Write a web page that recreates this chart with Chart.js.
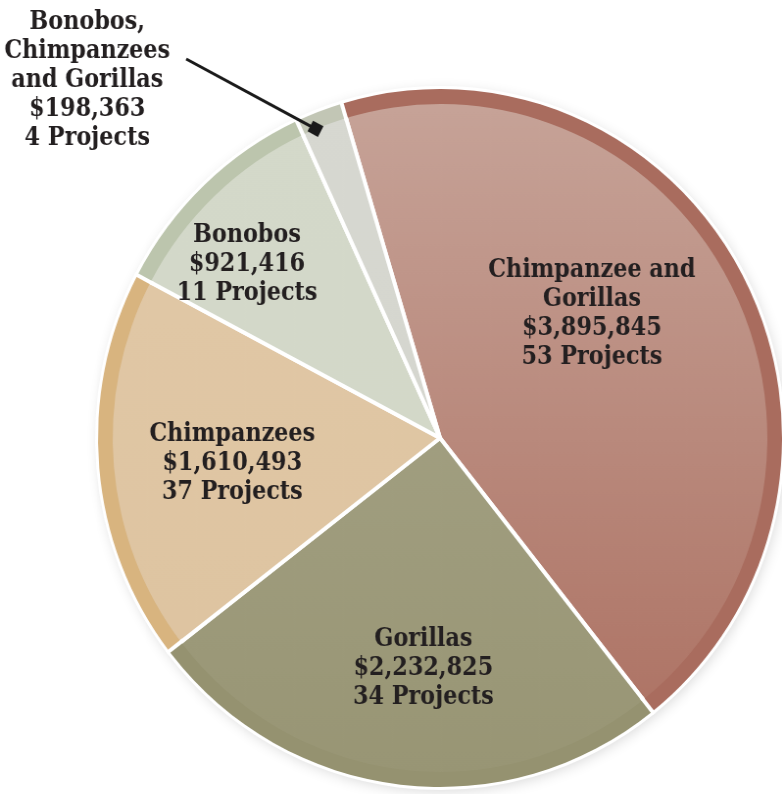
<!DOCTYPE html>
<html>
<head>
<meta charset="utf-8">
<script src="https://cdn.jsdelivr.net/npm/chart.js@4.4.0/dist/chart.umd.min.js"></script>
<style>
  html, body { margin: 0; padding: 0; background: #fff; }
  #wrap { position: relative; width: 782px; height: 794px; overflow: hidden; background: #fff; }
  #wrap canvas { position: absolute; left: -10px; top: -12px; transform: scale(0.98, 1); transform-origin: 450px 450px; }
</style>
</head>
<body>
<div id="wrap"><canvas id="pie" width="900" height="900"></canvas></div>
<script>
// data
const categories = ["Chimpanzee and Gorillas", "Gorillas", "Chimpanzees", "Bonobos", "Bonobos, Chimpanzees and Gorillas"];
const funding = [3895845, 2232825, 1610493, 921416, 198363];
const projects = [53, 34, 37, 11, 4];
const labelLines = [["Chimpanzee and", "Gorillas"], ["Gorillas"], ["Chimpanzees"], ["Bonobos"], ["Bonobos,", "Chimpanzees", "and Gorillas"]];

// styles
const bodyTop = ["#c7a499", "#a9a78b", "#e2c9a8", "#d4d9ca", "#d7d8d1"];
const bodyBottom = ["#ab6e5f", "#989574", "#ddc39f", "#d2d7c7", "#d3d4cc"];
const rimColors = ["#a96c5e", "#959270", "#d8b47f", "#bcc5ad", "#c2c6b5"];
// label block centre, offset from the pie centre (px)
const labelOffsets = [[155, -124], [-17, 230], [-212, 25], [-197, -174], [-360, -358]];
const RIM = 15;
const LINE_H = 29;
const TEXT_SX = 0.875;

function bodyFill(ctx) {
    const chart = ctx.chart;
    const a = chart.chartArea;
    if (!a) return bodyTop[ctx.dataIndex];
    const cy = (a.top + a.bottom) / 2;
    const r = Math.min(a.right - a.left, a.bottom - a.top) / 2;
    const g = chart.ctx.createLinearGradient(0, cy - r, 0, cy + r);
    g.addColorStop(0, bodyTop[ctx.dataIndex]);
    g.addColorStop(1, bodyBottom[ctx.dataIndex]);
    return g;
}

const pieDecor = {
    id: 'pieDecor',
    beforeDatasetsDraw(chart) {
        const arcs = chart.getDatasetMeta(0).data;
        if (!arcs.length) return;
        const c = chart.ctx, a0 = arcs[0];
        c.save();
        c.shadowColor = 'rgba(0,0,0,0.16)';
        c.shadowBlur = 14;
        c.shadowOffsetX = 2;
        c.shadowOffsetY = 3;
        c.fillStyle = '#fff';
        c.beginPath();
        c.arc(a0.x, a0.y, a0.outerRadius, 0, Math.PI * 2);
        c.fill();
        c.restore();
    },
    afterDatasetsDraw(chart) {
        const c = chart.ctx;
        const arcs = chart.getDatasetMeta(0).data;
        c.save();
        // outer rim of each slice
        arcs.forEach((arc, i) => {
            const R = arc.outerRadius - 1;
            c.beginPath();
            c.arc(arc.x, arc.y, R, arc.startAngle, arc.endAngle);
            c.arc(arc.x, arc.y, R - RIM, arc.endAngle, arc.startAngle, true);
            c.closePath();
            c.fillStyle = rimColors[i];
            c.fill();
        });
        // white separators through the rim
        c.strokeStyle = '#fff';
        c.lineWidth = 4;
        arcs.forEach(arc => {
            const R = arc.outerRadius;
            c.beginPath();
            c.moveTo(arc.x + Math.cos(arc.startAngle) * (R - RIM - 4), arc.y + Math.sin(arc.startAngle) * (R - RIM - 4));
            c.lineTo(arc.x + Math.cos(arc.startAngle) * (R + 2), arc.y + Math.sin(arc.startAngle) * (R + 2));
            c.stroke();
        });

        // labels
        c.fillStyle = '#231f20';
        c.font = 'bold 26px "DejaVu Serif"';
        c.textAlign = 'center';
        c.textBaseline = 'middle';
        arcs.forEach((arc, i) => {
            const lines = labelLines[i].concat(["$" + funding[i].toLocaleString('en-US'), projects[i] + " Projects"]);
            const x = arc.x + labelOffsets[i][0];
            let y = arc.y + labelOffsets[i][1] - (lines.length - 1) * LINE_H / 2;
            lines.forEach(t => {
                c.save();
                c.translate(x, y);
                c.scale(TEXT_SX, 1);
                c.fillText(t, 0, 0);
                c.restore();
                y += LINE_H;
            });
        });

        // leader for the smallest slice
        const small = arcs[4];
        const ang = small.startAngle + 0.3 * (small.endAngle - small.startAngle);
        const ex = small.x + Math.cos(ang) * small.outerRadius * 0.955;
        const ey = small.y + Math.sin(ang) * small.outerRadius * 0.955;
        const sx = small.x - 259, sy = small.y - 379;
        c.strokeStyle = '#1a1a1a';
        c.lineWidth = 3;
        c.beginPath();
        c.moveTo(sx, sy);
        c.lineTo(ex, ey);
        c.stroke();
        c.translate(ex, ey);
        c.rotate(Math.atan2(ey - sy, ex - sx));
        c.fillStyle = '#1a1a1a';
        c.fillRect(-6, -6, 12, 12);
        c.restore();
    }
};

new Chart(document.getElementById('pie'), {
    type: 'pie',
    data: {
        labels: categories,
        datasets: [{
            data: funding,
            backgroundColor: bodyFill,
            borderColor: '#ffffff',
            borderWidth: 4
        }]
    },
    options: {
        responsive: false,
        devicePixelRatio: 1,
        animation: false,
        rotation: -16.7,
        layout: { padding: 98 },
        plugins: {
            legend: { display: false },
            tooltip: { enabled: false }
        }
    },
    plugins: [pieDecor]
});
</script>
</body>
</html>
